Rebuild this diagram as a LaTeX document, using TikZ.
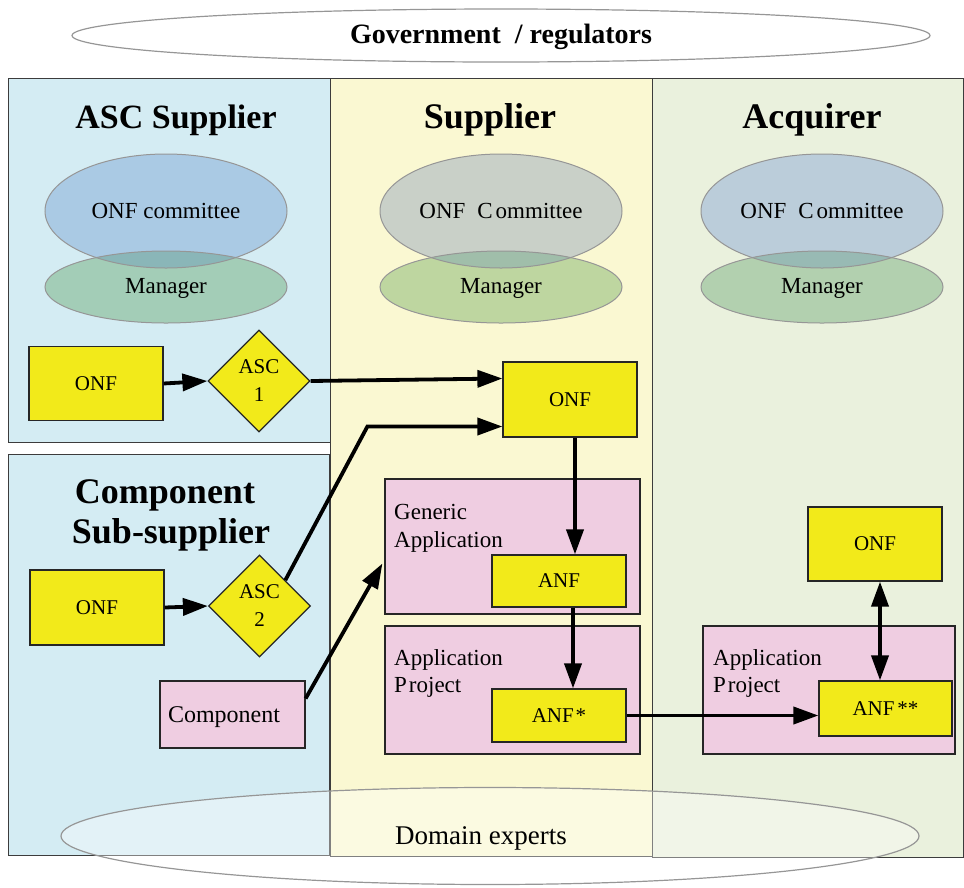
\documentclass[tikz,border=0pt]{standalone}
\usepackage{fontspec}
\setmainfont{Liberation Serif}
\usetikzlibrary{arrows.meta,shapes.geometric,calc}
\definecolor{laneblue}{RGB}{212,236,243}
\definecolor{laneyellow}{RGB}{250,248,210}
\definecolor{lanegreen}{RGB}{234,241,221}
\definecolor{lanebd}{RGB}{60,60,60}
\definecolor{boxyellow}{RGB}{242,234,26}
\definecolor{boxpink}{RGB}{239,205,225}
\definecolor{ellbd}{RGB}{150,150,150}
\definecolor{ascC}{RGB}{170,202,228}
\definecolor{ascM}{RGB}{163,205,183}
\definecolor{ascO}{RGB}{138,182,184}
\definecolor{supC}{RGB}{201,208,200}
\definecolor{supM}{RGB}{190,214,160}
\definecolor{supO}{RGB}{160,190,170}
\definecolor{acqC}{RGB}{187,205,218}
\definecolor{acqM}{RGB}{178,208,175}
\definecolor{acqO}{RGB}{152,186,180}
\begin{document}
\begin{tikzpicture}[x=1pt,y=-1pt,
  lane/.style={draw=lanebd, line width=1.3pt, inner sep=0pt, anchor=north west},
  ybox/.style={draw=black!85, line width=1.2pt, fill=boxyellow, inner sep=0pt, font=\fontsize{21}{28}\selectfont},
  pbox/.style={draw=black!85, line width=1.2pt, fill=boxpink, inner sep=0pt},
  ydiam/.style={diamond, draw=black!85, line width=1.2pt, fill=boxyellow, inner sep=0pt, minimum width=102pt, minimum height=102pt, align=center, font=\fontsize{21}{28}\selectfont},
  ell/.style={ellipse, draw=ellbd, line width=1pt, inner sep=0pt, text depth=0pt, font=\fontsize{23}{26}\selectfont},
  lbl/.style={anchor=base west, inner sep=0pt, font=\fontsize{23}{28}\selectfont},
  ttl/.style={anchor=base, inner sep=0pt, font=\fontsize{36}{40}\selectfont\bfseries},
  arr/.style={line width=3.8pt, -{Triangle[length=25pt,width=17pt]}},
  darr/.style={line width=3.8pt, {Triangle[length=25pt,width=17pt]}-{Triangle[length=25pt,width=17pt]}}
]
\useasboundingbox (0,0) rectangle (964,887);

% top ellipse
\node[ellipse, draw=ellbd, line width=1.2pt, inner sep=0pt, minimum width=858pt, minimum height=53pt,
      text height=15pt, text depth=0pt, font=\fontsize{28}{30}\selectfont\bfseries] (gov) at (501,35.5) {Government\ \ / regulators};

% lanes
\node[lane, fill=laneyellow, minimum width=322pt, minimum height=778pt] (lsup) at (330,78) {};
\node[lane, fill=lanegreen, minimum width=311pt, minimum height=779pt] (lacq) at (652,78) {};
\node[lane, fill=laneblue, minimum width=322pt, minimum height=364pt] (lasc) at (8,78) {};
\node[lane, fill=laneblue, minimum width=321pt, minimum height=401pt] (lcomp) at (8,454) {};

% titles
\node[ttl, font=\fontsize{34}{40}\selectfont\bfseries] (tasc) at (176,128) {ASC Supplier};
\node[ttl] (tsup) at (490,128) {Supplier};
\node[ttl] (tacq) at (812,128) {Acquirer};
\node[ttl] (tcomp1) at (165,503) {Component};
\node[ttl] (tcomp2) at (171,543) {Sub-supplier};

% committee / manager ellipses
\foreach \X/\C/\M/\O in {166/ascC/ascM/ascO, 501/supC/supM/supO, 822/acqC/acqM/acqO}{
  \fill[\C] (\X,211) ellipse [x radius=121pt, y radius=57pt];
  \fill[\M] (\X,287) ellipse [x radius=121pt, y radius=36pt];
  \begin{scope}
    \clip (\X,211) ellipse [x radius=121pt, y radius=57pt];
    \fill[\O] (\X,287) ellipse [x radius=121pt, y radius=36pt];
  \end{scope}
}
\node[ell, minimum width=242pt, minimum height=114pt, text height=14pt] (ascCom) at (166,211) {ONF committee};
\node[ell, minimum width=242pt, minimum height=72pt, text height=12pt] (ascMan) at (166,287) {Manager};
\node[ell, minimum width=242pt, minimum height=114pt, text height=14pt] (supCom) at (501,211) {ONF\hspace{12pt}C\kern3pt ommittee};
\node[ell, minimum width=242pt, minimum height=72pt, text height=12pt] (supMan) at (501,287) {Manager};
\node[ell, minimum width=242pt, minimum height=114pt, text height=14pt] (acqCom) at (822,211) {ONF\hspace{12pt}C\kern3pt ommittee};
\node[ell, minimum width=242pt, minimum height=72pt, text height=12pt] (acqMan) at (822,287) {Manager};

% ASC supplier
\node[ybox, minimum width=134pt, minimum height=74pt] (aonf) at (96,383.5) {ONF};
\node[ydiam] (asc1) at (259,381) {ASC\\1};

% component sub-supplier
\node[ybox, minimum width=134pt, minimum height=75pt] (conf) at (97,607.5) {ONF};
\node[ydiam] (asc2) at (259.5,606) {ASC\\2};
\node[pbox, minimum width=145pt, minimum height=67pt, text width=129pt, inner xsep=8pt, align=left,
      text height=15pt, text depth=0pt, font=\fontsize{24}{28}\selectfont] (comp) at (232.5,714.5) {Component};

% supplier
\node[ybox, minimum width=134pt, minimum height=75pt] (sonf) at (570,399.5) {ONF};
\node[pbox, minimum width=255pt, minimum height=135pt] (genapp) at (512.5,546.5) {};
\node[lbl] (genl1) at (394,519) {Generic};
\node[lbl] (genl2) at (394,547) {Application};
\node[ybox, minimum width=134pt, minimum height=52pt] (anf) at (559,581) {ANF};
\node[pbox, minimum width=255pt, minimum height=128pt] (sproj) at (512.5,690) {};
\node[lbl] (spl1) at (394,665) {Application};
\node[lbl] (spl2) at (394,692) {P\kern2pt roject};
\node[ybox, minimum width=134pt, minimum height=53pt] (anfs) at (559,715.5) {ANF\kern2pt*};

% acquirer
\node[ybox, minimum width=134pt, minimum height=74pt] (qonf) at (875,544) {ONF};
\node[pbox, minimum width=252pt, minimum height=128pt] (aproj) at (829,690) {};
\node[lbl] (apl1) at (713,665) {Application};
\node[lbl] (apl2) at (713,692) {P\kern2pt roject};
\node[ybox, minimum width=133pt, minimum height=55pt] (anfss) at (885.5,708.5) {ANF\kern3pt**};

% domain experts
\node[ellipse, draw=ellbd, line width=1.2pt, fill=white, fill opacity=0.35, inner sep=0pt,
      minimum width=858pt, minimum height=97pt] (dom) at (490,836) {};
\node[anchor=base, inner sep=0pt, font=\fontsize{27}{30}\selectfont] (doml) at (481,844) {Domain experts};

% connectors
\draw[arr] (aonf.east) -- (asc1.west);
\draw[arr] (conf.east) -- (asc2.west);
\draw[arr] (asc1.east) -- ($(sonf.west)+(0,-21)$);
\coordinate (bend) at ($(sonf.west)+(-135,27)$);
\draw[arr, line join=miter] (asc2.north east) -- (bend) -- ($(sonf.west)+(0,27)$);
\draw[arr] ($(comp.east)+(0,-16)$) -- ($(genapp.west)+(-2,17)$);
\draw[arr] ($(sonf.south)+(5,0)$) -- ($(anf.north)+(16,0)$);
\draw[arr] ($(anf.south)+(14,0)$) -- ($(anfs.north)+(14,0)$);
\draw[arr] (anfs.east) -- (anfs.east -| anfss.west);
\draw[darr] ($(qonf.south)+(5,0)$) -- ($(anfss.north)+(-5.5,0)$);
\end{tikzpicture}
\end{document}
